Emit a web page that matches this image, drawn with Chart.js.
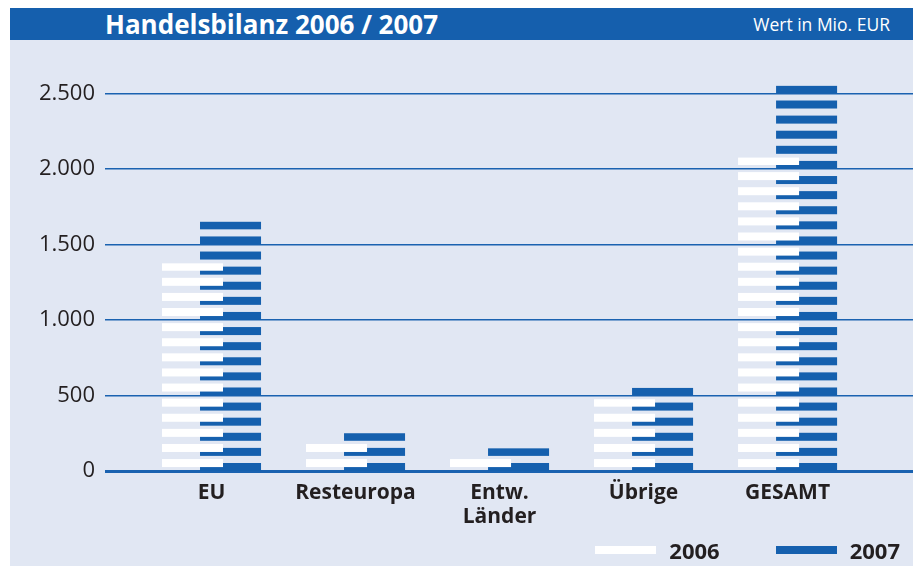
<!DOCTYPE html>
<html lang="de">
<head>
<meta charset="utf-8">
<title>Handelsbilanz 2006 / 2007</title>
<script src="https://cdn.jsdelivr.net/npm/chart.js@4.4.1/dist/chart.umd.min.js"></script>
<style>
    body { margin: 0; background: #ffffff; font-family: 'Open Sans', sans-serif; }
    #panel { position: absolute; left: 10px; top: 8px; width: 903px; height: 558px; }
    #kopf { height: 32px; background: #155fad; color: #ffffff; position: relative; }
    #kopf .titel { position: absolute; left: 95px; top: 0; line-height: 33px; font-size: 26px; font-weight: bold; }
    #kopf .einheit { position: absolute; right: 23px; top: 0; line-height: 33px; font-size: 17.5px; }
    #flaeche { position: relative; height: 526px; background: #e1e7f3; }
    #flaeche canvas { position: absolute; left: 0; top: 0; }
    #legende { position: absolute; right: 13px; top: 498px; height: 24px; display: flex; align-items: center;
               font-size: 22px; font-weight: bold; color: #231f20; }
    #legende .feld { width: 61px; height: 8px; margin-right: 13px; }
    #legende .eintrag { display: flex; align-items: center; }
    #legende .eintrag + .eintrag { margin-left: 56px; }
</style>
</head>
<body>
<div id="panel">
    <div id="kopf">
        <span class="titel">Handelsbilanz 2006 / 2007</span>
        <span class="einheit">Wert in Mio. EUR</span>
    </div>
    <div id="flaeche">
        <canvas id="handels-chart" width="903" height="526"></canvas>
        <div id="legende"></div>
    </div>
</div>
<script>
// Daten
const kategorien = ['EU', 'Resteuropa', ['Entw.', 'Länder'], 'Übrige', 'GESAMT'];
const jahre = ['2006', '2007'];
const werte2006 = [1375, 180, 80, 475, 2075];
const werte2007 = [1650, 250, 150, 550, 2550];
const yTicks = [0, 500, 1000, 1500, 2000, 2500];

const farbeWeiss = '#ffffff';
const farbeBlau = '#1560ae';
const textFarbe = '#231f20';

// Zahlen im deutschen Format (2.500)
function formatZahl(v) {
    if (v < 1000) return String(v);
    return Math.floor(v / 1000) + '.' + String(v % 1000).padStart(3, '0');
}

// Balken als horizontale Streifen zeichnen (je 100 Einheiten ein Streifen)
const streifenPlugin = {
    id: 'streifen',
    beforeDatasetDraw(chart, args) {
        const ds = chart.data.datasets[args.index];
        const yScale = chart.scales.y;
        const ctx = chart.ctx;
        ctx.save();
        ctx.fillStyle = ds.backgroundColor;
        args.meta.data.forEach((bar, i) => {
            const { x, width } = bar.getProps(['x', 'width'], true);
            const wert = ds.data[i].y;
            for (let v = ds.streifenStart; v < wert; v += 100) {
                const oben = yScale.getPixelForValue(Math.min(v + 53, wert));
                const unten = yScale.getPixelForValue(v);
                ctx.fillRect(x - width / 2, oben, width, unten - oben);
            }
        });
        ctx.restore();
        return false;
    }
};

const ctx = document.getElementById('handels-chart');

new Chart(ctx, {
    type: 'bar',
    data: {
        datasets: [
            {
                label: jahre[0],
                data: werte2006.map((v, i) => ({ x: i + 1, y: v })),
                backgroundColor: farbeWeiss,
                streifenStart: 26
            },
            {
                label: jahre[1],
                data: werte2007.map((v, i) => ({ x: i + 1, y: v })),
                backgroundColor: farbeBlau,
                streifenStart: 0
            }
        ]
    },
    options: {
        responsive: false,
        animation: false,
        categoryPercentage: 0.528,
        barPercentage: 1.605,
        layout: {
            padding: { top: 22.8, right: 0, bottom: 0, left: 0 }
        },
        scales: {
            x: {
                type: 'linear',
                offset: false,
                min: 0.2604,
                max: 5.871,
                grid: { display: false, drawTicks: false, offset: false },
                border: { display: false },
                afterBuildTicks: scale => {
                    scale.ticks = kategorien.map((k, i) => ({ value: i + 1 }));
                },
                afterFit: scale => { scale.height = 95; },
                ticks: {
                    padding: 10,
                    autoSkip: false,
                    maxRotation: 0,
                    color: textFarbe,
                    font: { family: 'Open Sans', size: 21, weight: 'bold', lineHeight: 1.15 },
                    callback: value => kategorien[value - 1]
                }
            },
            y: {
                min: 0,
                max: 2700,
                grid: {
                    color: '#1a62b0',
                    lineWidth: c => (c.tick && c.tick.value === 0 ? 3 : 1.5),
                    drawTicks: false
                },
                border: { display: false },
                afterBuildTicks: scale => {
                    scale.ticks = yTicks.map(v => ({ value: v }));
                },
                afterFit: scale => { scale.width = 95; },
                ticks: {
                    padding: 10,
                    color: textFarbe,
                    font: { family: 'Open Sans', size: 22 },
                    callback: value => formatZahl(value)
                }
            }
        },
        plugins: {
            legend: { display: false },
            tooltip: { enabled: false }
        }
    },
    plugins: [streifenPlugin]
});

// Legende unten rechts
const legende = document.getElementById('legende');
[farbeWeiss, farbeBlau].forEach((farbe, i) => {
    const eintrag = document.createElement('div');
    eintrag.className = 'eintrag';
    eintrag.innerHTML = `<span class="feld" style="background:${farbe}"></span><span>${jahre[i]}</span>`;
    legende.appendChild(eintrag);
});
</script>
</body>
</html>
